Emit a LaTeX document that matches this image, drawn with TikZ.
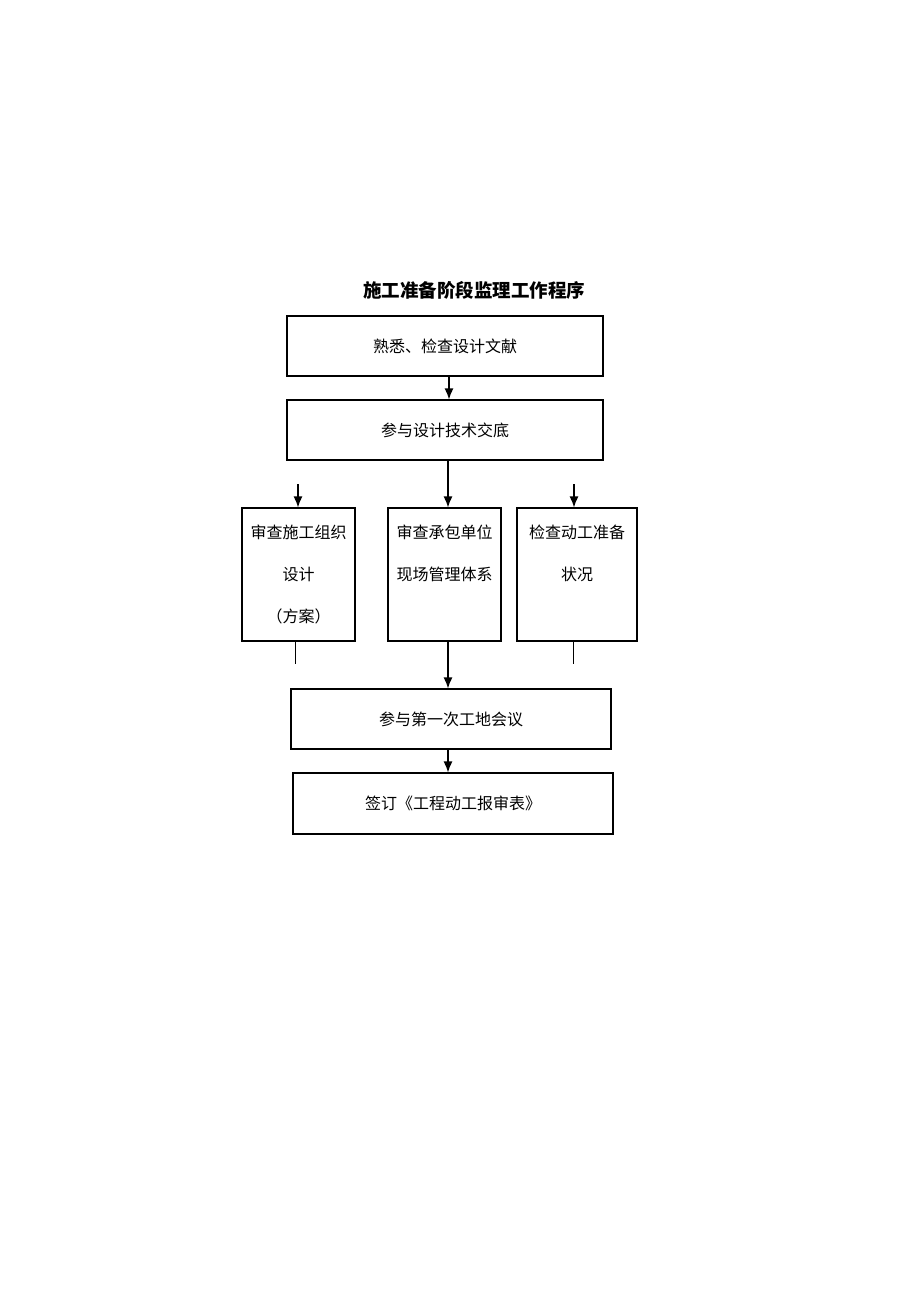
\documentclass[tikz,border=0pt]{standalone}
\usepackage{fontspec}
\setmainfont{Noto Sans CJK SC}
\usetikzlibrary{arrows.meta}
\tikzset{
  box/.style={draw, line width=1.1pt, inner sep=0pt, align=center, font=\fontsize{16}{42}\selectfont},
  arr/.style={line width=1.4pt, -{Latex[length=11pt,width=9pt]}},
  ln/.style={line width=1pt}
}
\begin{document}
\begin{tikzpicture}[x=1pt,y=1pt]
\useasboundingbox (0,0) rectangle (920,-1302);
\node[font=\fontsize{18.5}{20}\selectfont\bfseries] (title) at (474,-290) {施工准备阶段监理工作程序};
\node[box, minimum width=316pt, minimum height=60pt] (b1) at (445,-346) {熟悉、检查设计文献};
\node[box, minimum width=316pt, minimum height=60pt] (b2) at (445,-430) {参与设计技术交底};
\node[box, minimum width=113pt, minimum height=133pt] (bL) at (298.5,-574.5) {审查施工组织\\设计\\（方案）};
\node[box, minimum width=113pt, minimum height=133pt] (bM) at (444.5,-574.5) {审查承包单位\\现场管理体系\\\phantom{审}};
\node[box, minimum width=120pt, minimum height=133pt] (bR) at (577,-574.5) {检查动工准备\\状况\\\phantom{审}};
\node[box, minimum width=320pt, minimum height=60pt] (b5) at (451,-719) {参与第一次工地会议};
\node[box, minimum width=320pt, minimum height=61pt] (b6) at (453,-803.5) {签订《工程动工报审表》};
\coordinate (a1) at (449,-376);
\draw[arr] (a1) -- (a1 |- b2.north);
\coordinate (m1) at (448,-460);
\draw[arr] (m1) -- (m1 |- bM.north);
\coordinate (cl) at (298,-484);
\draw[arr] (cl) -- (cl |- bL.north);
\coordinate (cr) at (574,-484);
\draw[arr] (cr) -- (cr |- bR.north);
\coordinate (dl) at (295,-641);
\coordinate (dle) at (295,-664);
\draw[ln] (dl) -- (dle);
\coordinate (dr) at (573,-641);
\coordinate (dre) at (573,-664);
\draw[ln] (dr) -- (dre);
\coordinate (m2) at (448,-641);
\draw[arr] (m2) -- (m2 |- b5.north);
\coordinate (m3) at (448,-749);
\draw[arr] (m3) -- (m3 |- b6.north);
\end{tikzpicture}
\end{document}
